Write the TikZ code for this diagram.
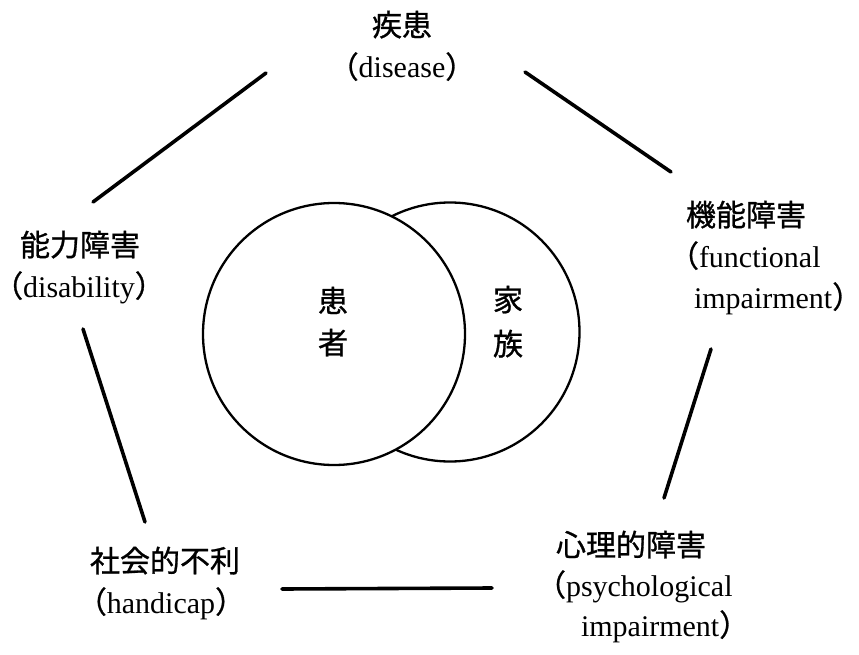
\documentclass[tikz,border=0pt]{standalone}
\usepackage{fontspec}
\setmainfont{Liberation Serif}
\newfontfamily\cjk[FakeBold=0.9]{Noto Sans CJK JP}
\newcommand\jlp{{\cjk （}}
\newcommand\jrp{{\cjk ）}}
\begin{document}
\begin{tikzpicture}[x=1pt,y=-1pt,
  txt/.style={inner sep=0pt, outer sep=0pt, font=\fontsize{30}{36}\selectfont},
  ctxt/.style={txt, anchor=base},
  wtxt/.style={txt, anchor=base west},
  link/.style={line width=3.6pt, line cap=round},
  ring/.style={line width=2.3pt, fill=white}]
\useasboundingbox (0,0) rectangle (859,655);
\fill[white] (0,0) rectangle (859,655);

% circles
\draw[ring] (450,332) circle[radius=129.5];
\draw[ring] (334,334) circle[radius=131];
\node[ctxt] (k1) at (333,312) {\cjk 患};
\node[ctxt] (k2) at (333,354) {\cjk 者};
\node[ctxt] (f1) at (508,311) {\cjk 家};
\node[ctxt] (f2) at (508,355) {\cjk 族};

% top
\node[ctxt] (t1) at (402,36) {\cjk 疾患};
\node[ctxt] (t2) at (402,78) {\jlp disease\jrp};
% right
\node[wtxt] (r1) at (686,226) {\cjk 機能障害};
\node[wtxt] (r2) at (669,267) {\jlp functional};
\node[wtxt] (r3) at (694,308) {impairment\jrp};
% bottom right
\node[wtxt] (p1) at (556,556) {\cjk 心理的障害};
\node[wtxt] (p2) at (536,596) {\jlp psychological};
\node[wtxt] (p3) at (581,636) {impairment\jrp};
% bottom left
\node[ctxt] (h1) at (165,572) {\cjk 社会的不利};
\node[ctxt] (h2) at (161,613) {\jlp handicap\jrp};
% left
\node[ctxt] (d1) at (80,256) {\cjk 能力障害};
\node[ctxt] (d2) at (79,297) {\jlp disability\jrp};

% connector end points
\coordinate (a1) at (266,73);
\coordinate (a2) at (93,202);
\coordinate (b1) at (525,72);
\coordinate (b2) at (671,172);
\coordinate (c1) at (711,349);
\coordinate (c2) at (664,498);
\coordinate (e1) at (282,589);
\coordinate (e2) at (492,588);
\coordinate (g1) at (83,329);
\coordinate (g2) at (145,522);
\draw[link] (a1) -- (a2);
\draw[link] (b1) -- (b2);
\draw[link] (c1) -- (c2);
\draw[link] (e1) -- (e2);
\draw[link] (g1) -- (g2);
\end{tikzpicture}
\end{document}
